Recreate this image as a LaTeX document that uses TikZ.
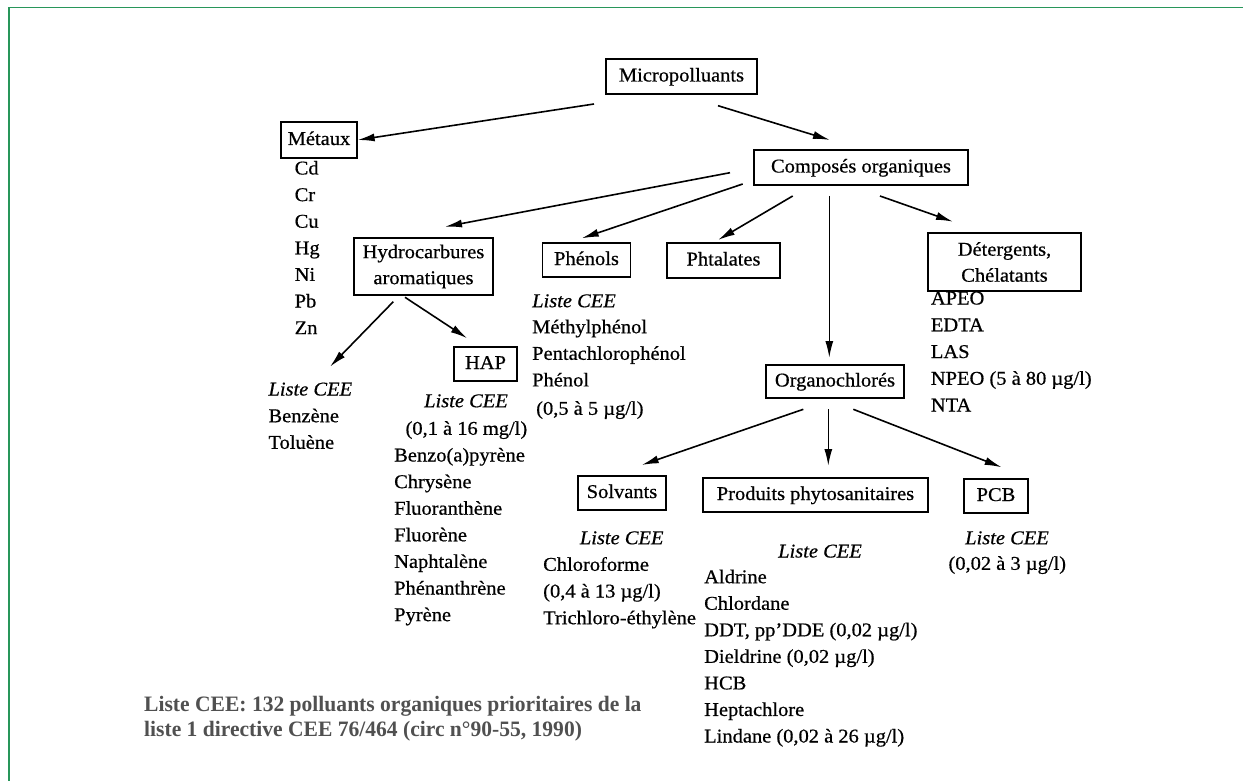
\documentclass[tikz,border=0pt]{standalone}
\usepackage{fontspec}
\setmainfont{Liberation Serif}[FakeStretch=1.05,FakeBold=0.6]
\newfontfamily\notefont{Liberation Serif}[FakeStretch=0.98]
\usetikzlibrary{arrows.meta}
\definecolor{framegreen}{RGB}{40,150,90}
\definecolor{notegray}{RGB}{80,80,80}

\begin{document}
\begin{tikzpicture}[x=1pt,y=-1pt,
  every node/.style={font=\fontsize{19.5}{26}\selectfont},
  box/.style={draw, line width=1.3pt, inner sep=0pt, text height=14pt, text depth=4pt},
  box2/.style={draw, line width=1.3pt, inner sep=0pt, align=center},
  item/.style={anchor=base west, inner sep=0pt},
  itemc/.style={anchor=base, inner sep=0pt},
  note/.style={anchor=base west, inner sep=0pt, text=notegray,
    font={\notefont\fontsize{22}{24}\selectfont\bfseries}},
  arr/.style={line width=1.6pt, -{Latex[length=17pt,width=8pt]}},
]
\useasboundingbox (0,0) rectangle (1243,781);

% page frame (top and left rules)
\draw[framegreen, line width=1.8pt] (8.7,781) -- (8.7,7.6) -- (1243,7.6);

% boxed categories
\node[box, minimum width=151pt, minimum height=35pt] (micro) at (681.5,76.5) {Micropolluants};
\node[box, minimum width=76pt, minimum height=36pt] (metaux) at (319,140) {Métaux};
\node[box, minimum width=214pt, minimum height=35pt] (comp) at (861,167.5) {Composés organiques};
\node[box2, minimum width=139pt, minimum height=57pt] (hydro) at (423.5,266.5) {Hydrocarbures\\aromatiques};
\node[box, minimum width=88pt, minimum height=34pt] (phenols) at (586.5,260) {Phénols};
\node[box, minimum width=113pt, minimum height=35pt] (phtal) at (723.5,260.5) {Phtalates};
\node[box2, minimum width=153pt, minimum height=58pt] (deter) at (1004.5,262) {Détergents,\\Chélatants};
\node[box, minimum width=63pt, minimum height=34pt] (hap) at (485.5,364) {HAP};
\node[box, minimum width=138pt, minimum height=33pt] (organo) at (835,381.5) {Organochlorés};
\node[box, minimum width=88pt, minimum height=34pt] (solv) at (622,493) {Solvants};
\node[box, minimum width=225pt, minimum height=34pt] (phyto) at (815.5,495) {Produits phytosanitaires};
\node[box, minimum width=64pt, minimum height=34pt] (pcb) at (996,496) {PCB};

% arrow end points
\coordinate (m-a) at (594,104);
\coordinate (m-b) at (718,105.7);
\coordinate (comp-e) at (830,140);
\coordinate (c-a) at (730,172.7);
\coordinate (hydro-n) at (445,226.7);
\coordinate (c-b) at (742.7,184);
\coordinate (phen-n) at (581.7,238.3);
\coordinate (c-c) at (792.7,196);
\coordinate (phtal-n) at (718,240);
\coordinate (c-d) at (829.3,196);
\coordinate (organo-n) at (829.3,358);
\coordinate (c-e) at (880,196);
\coordinate (deter-n) at (953,221.7);
\coordinate (h-a) at (393.3,301.7);
\coordinate (lst-n) at (330,366.7);
\coordinate (h-b) at (405,297.3);
\coordinate (hap-n) at (467.3,338.3);
\coordinate (o-a) at (803.3,409.3);
\coordinate (solv-n) at (641.7,465);
\coordinate (o-b) at (828.3,409.3);
\coordinate (phyto-n) at (828.3,466);
\coordinate (o-c) at (853.3,409.3);
\coordinate (pcb-n) at (1001.7,467.3);

% connectors
\draw[arr] (m-a) -- (metaux.east);
\draw[arr] (m-b) -- (comp-e);
\draw[arr] (c-a) -- (hydro-n);
\draw[arr] (c-b) -- (phen-n);
\draw[arr] (c-c) -- (phtal-n);
\draw[arr] (c-d) -- (organo-n);
\draw[arr] (c-e) -- (deter-n);
\draw[arr] (h-a) -- (lst-n);
\draw[arr] (h-b) -- (hap-n);
\draw[arr] (o-a) -- (solv-n);
\draw[arr] (o-b) -- (phyto-n);
\draw[arr] (o-c) -- (pcb-n);

% metals
\foreach \t [count=\i from 0] in {Cd,Cr,Cu,Hg,Ni,Pb,Zn}
  \node[item] (met-\i) at (294.5,{174.5+26.6*\i}) {\t};

% aromatic hydrocarbons
\node[item] (ar-l) at (268.3,395.5) {\textit{Liste CEE}};
\node[item] (ar-1) at (268.3,422.2) {Benzène};
\node[item] (ar-2) at (268.3,448.8) {Toluène};

% HAP
\node[itemc] (hap-l) at (466,407.2) {\textit{Liste CEE}};
\node[itemc] (hap-c) at (466.4,434.8) {(0,1 à 16 mg/l)};
\foreach \t [count=\i from 0] in {Benzo(a)pyrène,Chrysène,Fluoranthène,Fluorène,Naphtalène,Phénanthrène,Pyrène}
  \node[item] (hap-\i) at (394,{461.5+26.6*\i}) {\t};

% phenols
\node[item] (ph-l) at (532,307.2) {\textit{Liste CEE}};
\foreach \t [count=\i from 0] in {Méthylphénol,Pentachlorophénol,Phénol}
  \node[item] (ph-\i) at (532,{333.2+26.6*\i}) {\t};
\node[item] (ph-c) at (536,414.8) {(0,5 à 5 µg/l)};

% detergents
\foreach \t [count=\i from 0] in {APEO,EDTA,LAS,{NPEO (5 à 80 µg/l)},NTA}
  \node[item] (det-\i) at (930.7,{304.5+26.75*\i}) {\t};

% solvents
\node[itemc] (so-l) at (621.7,544.2) {\textit{Liste CEE}};
\foreach \t [count=\i from 0] in {Chloroforme,{(0,4 à 13 µg/l)},Trichloro-éthylène}
  \node[item] (so-\i) at (543,{570.8+26.7*\i}) {\t};

% plant protection products
\node[itemc] (py-l) at (820,557.5) {\textit{Liste CEE}};
\foreach \t [count=\i from 0] in {Aldrine,Chlordane,{DDT, pp’DDE (0,02 µg/l)},{Dieldrine (0,02 µg/l)},HCB,Heptachlore,{Lindane (0,02 à 26 µg/l)}}
  \node[item] (py-\i) at (704,{583.2+26.55*\i}) {\t};

% PCB
\node[item] (pcb-l) at (965,544.2) {\textit{Liste CEE}};
\node[item] (pcb-c) at (948.3,569.8) {(0,02 à 3 µg/l)};

% footnote
\node[note] (note-1) at (144,711.5) {Liste CEE: 132 polluants organiques prioritaires de la};
\node[note] (note-2) at (144,736) {liste 1 directive CEE 76/464 (circ n°90-55, 1990)};
\end{tikzpicture}
\end{document}
